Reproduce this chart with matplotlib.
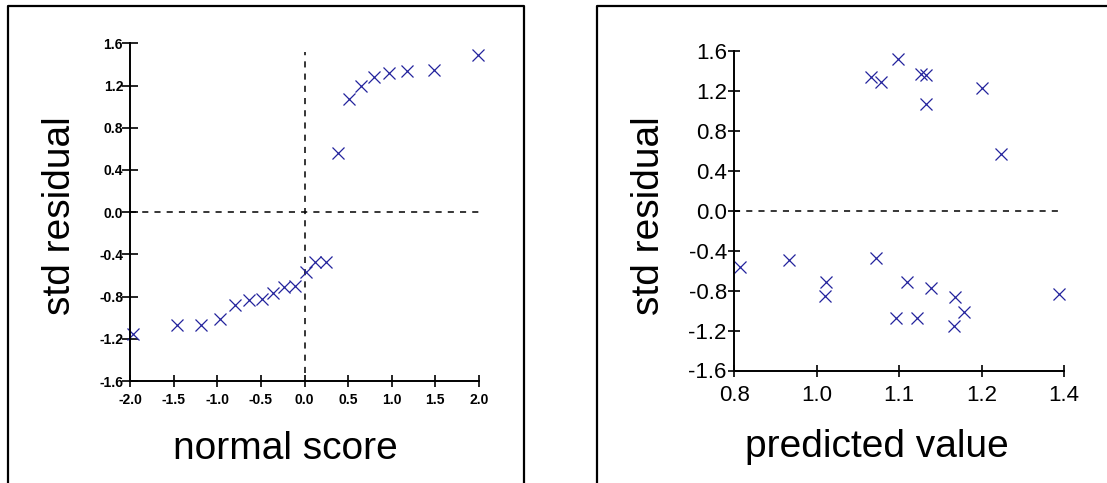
import matplotlib
matplotlib.use("Agg")
import matplotlib.pyplot as plt
from matplotlib.lines import Line2D

plt.rcParams['font.family'] = ['Liberation Sans', 'DejaVu Sans']
plt.rcParams['axes.unicode_minus'] = False

# residuals sorted, against their normal scores
normal_score = [-1.97, -1.46, -1.19, -0.97, -0.80, -0.64, -0.49, -0.36, -0.23, -0.11, 0.02,
                0.12, 0.25, 0.38, 0.51, 0.65, 0.80, 0.97, 1.17, 1.48, 1.99]
resid_sorted = [-1.15, -1.07, -1.07, -1.01, -0.88, -0.83, -0.82, -0.77, -0.71, -0.70, -0.57,
                -0.47, -0.47, 0.56, 1.07, 1.20, 1.28, 1.32, 1.34, 1.35, 1.49]

# same residuals against fitted values
predicted = [1.200, 1.094, 1.133, 1.218, 1.202, 0.965, 1.390, 1.158, 0.967, 1.115, 0.810,
             0.900, 1.058, 1.285, 1.149, 1.250, 1.067, 1.048, 1.149, 1.140, 1.097]
resid_fit = [-1.15, -1.07, -1.07, -1.01, -0.86, -0.85, -0.83, -0.77, -0.71, -0.71, -0.56,
             -0.49, -0.47, 0.57, 1.07, 1.23, 1.29, 1.34, 1.36, 1.37, 1.52]

y_ticks = [-1.6, -1.2, -0.8, -0.4, 0.0, 0.4, 0.8, 1.2, 1.6]
ns_ticks = [-2.0, -1.5, -1.0, -0.5, 0.0, 0.5, 1.0, 1.5, 2.0]
pv_ticks = [0.8, 0.95, 1.1, 1.25, 1.4]
pv_labels = ['0.8', '1.0', '1.1', '1.2', '1.4']

W, H = 1107, 483
fig = plt.figure(figsize=(W / 100, H / 100), dpi=100)
mcol = '#23239c'


def px_axes(x0, x1, y0, y1):
    # pixel box (top-left origin) -> figure axes
    return fig.add_axes([x0 / W, 1 - y1 / H, (x1 - x0) / W, (y1 - y0) / H])


def style(ax, size, weight, tlen_x, tlen_y, pad_x, pad_y):
    for s in ['top', 'right']:
        ax.spines[s].set_visible(False)
    for s in ['left', 'bottom']:
        ax.spines[s].set_linewidth(1.4)
    ax.tick_params(axis='x', direction='inout', length=tlen_x, width=1.2, labelsize=size, pad=pad_x)
    ax.tick_params(axis='y', direction='inout', length=tlen_y, width=1.2, labelsize=size, pad=pad_y)
    ax.set_ylim(-1.6, 1.6)
    ax.set_yticks(y_ticks)
    ax.set_yticklabels(['%.1f' % v for v in y_ticks])
    for t in ax.get_xticklabels() + ax.get_yticklabels():
        t.set_fontweight(weight)


# left: normal plot
ax1 = px_axes(130, 479, 43.3, 381)
ax1.set_xlim(-2.0, 2.0)
ax1.set_xticks(ns_ticks)
ax1.set_xticklabels(['%.1f' % v for v in ns_ticks])
style(ax1, 10, 'bold', 8.5, 11, 4.5, -0.5)
ax1.plot([-2.0, 2.0], [0, 0], color='black', lw=1.1, ls=(0, (4, 4)))
ax1.plot([0, 0], [-1.52, 1.52], color='black', lw=1.1, ls=(0, (4, 4)))
ax1.plot(normal_score, resid_sorted, 'x', color=mcol, ms=9, mew=0.9, clip_on=False)

# right: residuals vs fitted
ax2 = px_axes(734.4, 1064, 50.7, 370.5)
ax2.set_xlim(0.8, 1.4)
ax2.set_xticks(pv_ticks)
ax2.set_xticklabels(pv_labels)
style(ax2, 16, 'normal', 9, 9, 6, 1)
ax2.plot([0.8, 1.4], [0, 0], color='black', lw=1.1, ls=(0, (4, 4)))
ax2.plot(predicted, resid_fit, 'x', color=mcol, ms=9, mew=0.9, clip_on=False)

# axis titles
lab = 28
fig.text(285 / W, 1 - 459 / H, 'normal score', fontsize=lab, ha='center', va='baseline')
fig.text(876.5 / W, 1 - 457 / H, 'predicted value', fontsize=lab, ha='center', va='baseline')
fig.text(70 / W, 1 - 215.5 / H, 'std residual', fontsize=lab, rotation=90,
         rotation_mode='anchor', ha='center', va='baseline')
fig.text(659 / W, 1 - 215.5 / H, 'std residual', fontsize=lab, rotation=90,
         rotation_mode='anchor', ha='center', va='baseline')

# panel frames, open at the bottom
for xs, ys in [([7.5, 7.5, 524, 524], [H, 5.5, 5.5, H]),
               ([597, 597, W + 5], [H, 5.5, 5.5])]:
    fig.add_artist(Line2D([x / W for x in xs], [1 - y / H for y in ys],
                          transform=fig.transFigure, color='black', lw=1.6))

fig.savefig('out.png', dpi=100)
